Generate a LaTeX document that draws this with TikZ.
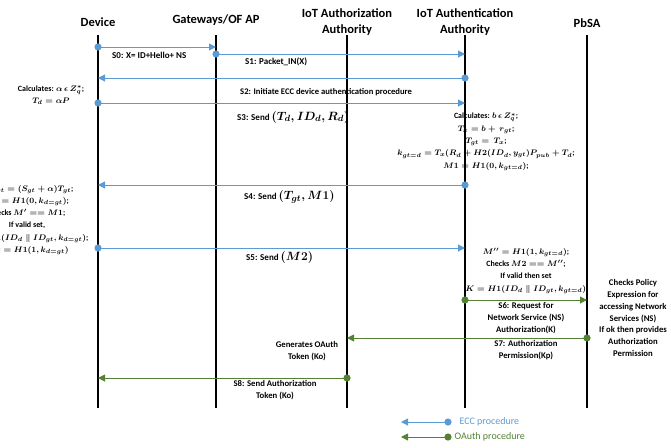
\documentclass[tikz,border=0pt]{standalone}
\usepackage{amsmath}
\usepackage{fontspec}
\setmainfont{Carlito}
\usetikzlibrary{positioning,arrows.meta}
\definecolor{eccBlue}{RGB}{91,155,213}
\definecolor{oaGreen}{RGB}{84,130,53}
\newcommand{\sendm}[1]{{\boldmath\fontsize{12.5}{12}\selectfont$#1$}}

\begin{document}
\begin{tikzpicture}[x=1pt,y=-1pt,
  head/.style={font=\bfseries\fontsize{12.5}{16}\selectfont, align=center, inner sep=0pt},
  life/.style={line width=2.2pt},
  msg/.style={line width=1pt, -{Triangle[length=7pt,width=7pt]}},
  lbl/.style={font=\bfseries\boldmath\fontsize{9}{11.5}\selectfont, align=center, inner sep=0pt},
  calcbox/.style={font=\bfseries\boldmath\fontsize{8}{12.3}\selectfont, align=center, inner sep=0pt}]
  \useasboundingbox (0,0) rectangle (671,447);

  % lifeline heads
  \node[head] (device) at (98,22) {Device};
  \node[head] (gateway) at (216,20) {Gateways/OF AP};
  \node[head] (authz) at (347,22) {IoT Authorization\\Authority};
  \node[head] (authn) at (465,22) {IoT Authentication\\Authority};
  \node[head] (pbsa) at (587,23) {PbSA};

  % lifelines
  \foreach \n/\x in {dev/98, gw/216, az/347, an/465, pb/587} {
    \coordinate (\n top) at (\x,35);
    \coordinate (\n bot) at (\x,408);
    \draw[life] (\n top) -- (\n bot);
  }

  % messages: name / from / to / y / colour
  \foreach \s/\a/\b/\y/\c in {s0/dev/gw/47/eccBlue, s1/gw/an/54/eccBlue,
      s2/an/dev/78/eccBlue, s3/dev/an/103/eccBlue, s4/an/dev/185/eccBlue,
      s5/dev/an/248/eccBlue, s6/an/pb/300/oaGreen, s7/pb/az/338/oaGreen,
      s8/az/dev/378/oaGreen} {
    \coordinate (\s from) at (\a top |- 0,\y);
    \coordinate (\s to) at (\b top |- 0,\y);
    \draw[msg, \c] (\s from) -- (\s to);
    \fill[\c] (\s from) circle (3.6);
  }

  % message labels
  \node[lbl, anchor=west] (l0) at (112,55) {S0: X= ID+Hello+ NS};
  \node[lbl, anchor=west] (l1) at (245,62) {S1: Packet\_IN(X)};
  \node[lbl, anchor=west, font=\bfseries\fontsize{8.6}{10}\selectfont] (l2) at (240,92)
    {S2: Initiate ECC device authentication procedure};
  \node[lbl, anchor=west] (l3) at (237,117) {S3: Send \sendm{(T_d, ID_d, R_d)}};
  \node[lbl, anchor=west] (l4) at (244,197) {S4: Send \sendm{(T_{gt}, M1)}};
  \node[lbl, anchor=west] (l5) at (246,257) {S5: Send \sendm{(M2)}};
  \node[lbl, font=\bfseries\fontsize{8.7}{11.8}\selectfont] (l6) at (526,318)
    {S6: Request for\\Network Service (NS)\\Authorization(K)};
  \node[lbl, font=\bfseries\fontsize{8.7}{11.8}\selectfont] (l7) at (526,350)
    {S7: Authorization\\Permission(Kp)};
  \node[lbl, font=\bfseries\fontsize{8.7}{12}\selectfont] (l8) at (275,390)
    {S8: Send Authorization\\Token (Ko)};

  % computations
  \node[calcbox] (devcalc) at (51,95) {Calculates: $\alpha\,\epsilon\, Z_q^{*}$;\\ $T_d = \alpha P$};
  \node[calcbox] (ancalc) at (486,142)
    {Calculates: $b\,\epsilon\, Z_q^{*}$;\\ $T_x = b +\, r_{gt}$;\\ $T_{gt} =\, T_x$;\\
     $k_{gt=d} = T_x(R_d + H2(ID_d, y_{gt})P_{pub} + T_d$;\\ $M1 = H1(0, k_{gt=d})$;};
  \node[calcbox] (devcheck) at (27,220)
    {$k_{d=gt} = (S_{gt} + \alpha)T_{gt}$;\\ $M' = H1(0, k_{d=gt})$;\\ Checks $M' == M1$;\\
     If valid set,\\ $K = H1(ID_d \parallel ID_{gt}, k_{d=gt})$;\\ $M2 = H1(1, k_{d=gt})$};
  \node[calcbox] (ancheck) at (526,271)
    {$M'' = H1(1, k_{gt=d})$;\\ Checks $M2 == M''$;\\ If valid then set\\
     $K = H1(ID_d \parallel ID_{gt}, k_{gt=d})$};
  \node[lbl, font=\bfseries\fontsize{8.7}{11.8}\selectfont] (pbcheck) at (633,318)
    {Checks Policy\\Expression for\\accessing Network\\Services (NS)\\If ok then provides\\Authorization\\Permission};
  \node[lbl, font=\bfseries\fontsize{8.7}{12}\selectfont] (token) at (307,351)
    {Generates OAuth\\Token (Ko)};

  % legend
  \coordinate (eccdot) at (448,422);
  \coordinate (ecctip) at (401,422);
  \coordinate (oadot) at (448,437);
  \coordinate (oatip) at (401,437);
  \draw[msg, eccBlue] (eccdot) -- (ecctip);
  \fill[eccBlue] (eccdot) circle (3.6);
  \draw[msg, oaGreen] (oadot) -- (oatip);
  \fill[oaGreen] (oadot) circle (3.6);
  \node[eccBlue, font=\fontsize{10}{11}\selectfont, right=8pt of eccdot] (ecclbl) {ECC procedure};
  \node[oaGreen, font=\fontsize{10}{11}\selectfont, right=3pt of oadot] (oalbl) {OAuth procedure};
\end{tikzpicture}
\end{document}
